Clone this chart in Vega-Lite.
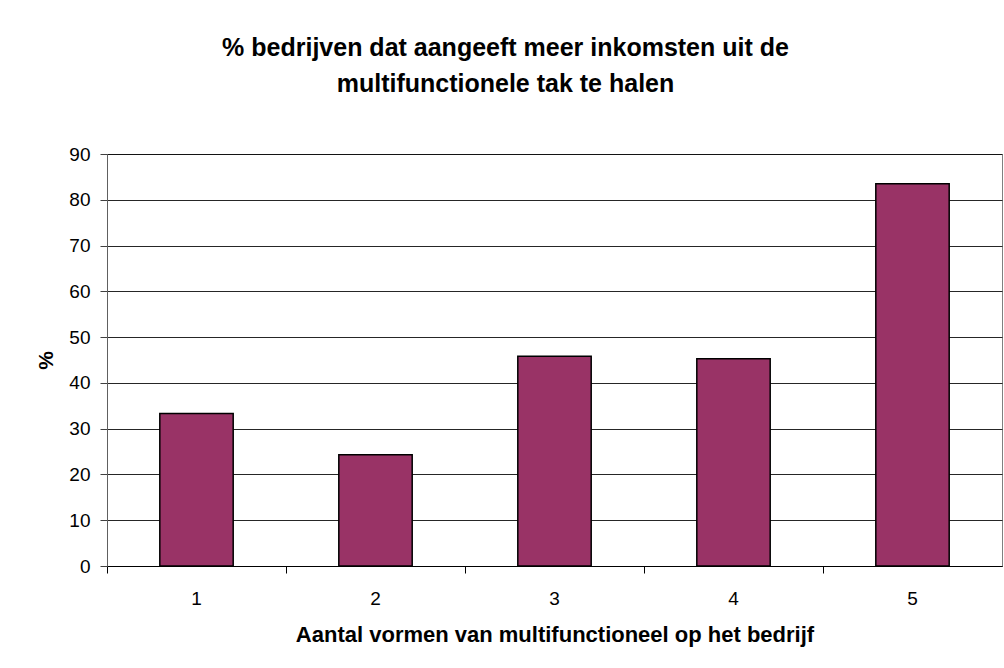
{
  "$schema": "https://vega.github.io/schema/vega-lite/v6.json",
  "width": 895,
  "height": 412,
  "autosize": "none",
  "padding": {"left": 107, "top": 154, "right": 2, "bottom": 102},
  "background": "white",
  "title": {
    "text": ["% bedrijven dat aangeeft meer inkomsten uit de", "multifunctionele tak te halen"],
    "font": "Liberation Sans",
    "fontSize": 25,
    "fontWeight": "bold",
    "color": "#000000",
    "anchor": "middle",
    "dx": -49,
    "lineHeight": 36,
    "offset": 48
  },
  "data": {
    "values": [
      {"aantal": "1", "pct": 33.3},
      {"aantal": "2", "pct": 24.3},
      {"aantal": "3", "pct": 45.8},
      {"aantal": "4", "pct": 45.3},
      {"aantal": "5", "pct": 83.5}
    ]
  },
  "mark": {"type": "bar", "width": {"band": 0.41}, "fill": "#993366", "stroke": "#000000", "strokeWidth": 1.5},
  "encoding": {
    "x": {
      "field": "aantal",
      "type": "ordinal",
      "scale": {"paddingInner": 0, "paddingOuter": 0},
      "axis": {
        "title": "Aantal vormen van multifunctioneel op het bedrijf",
        "labelAngle": 0,
        "bandPosition": 0,
        "grid": false,
        "tickSize": 7,
        "tickColor": "#000000",
        "domainColor": "#000000",
        "labelPadding": 16,
        "titlePadding": 16,
        "titleFontSize": 22
      }
    },
    "y": {
      "field": "pct",
      "type": "quantitative",
      "scale": {"domain": [0, 90], "nice": false},
      "axis": {
        "title": "%",
        "values": [0, 10, 20, 30, 40, 50, 60, 70, 80, 90],
        "grid": true,
        "gridColor": "#000000",
        "gridOpacity": 0.85,
        "tickSize": 7,
        "tickColor": "#404040",
        "domainColor": "#606060",
        "labelPadding": 10,
        "titlePadding": 12,
        "titleFontSize": 21
      }
    }
  },
  "config": {
    "view": {"stroke": "#808080", "strokeWidth": 1},
    "axis": {
      "labelFont": "Liberation Sans",
      "labelFontSize": 19,
      "labelColor": "#000000",
      "titleFont": "Liberation Sans",
      "titleFontWeight": "bold",
      "titleColor": "#000000",
      "domainWidth": 1,
      "tickWidth": 1,
      "gridWidth": 1
    }
  }
}
